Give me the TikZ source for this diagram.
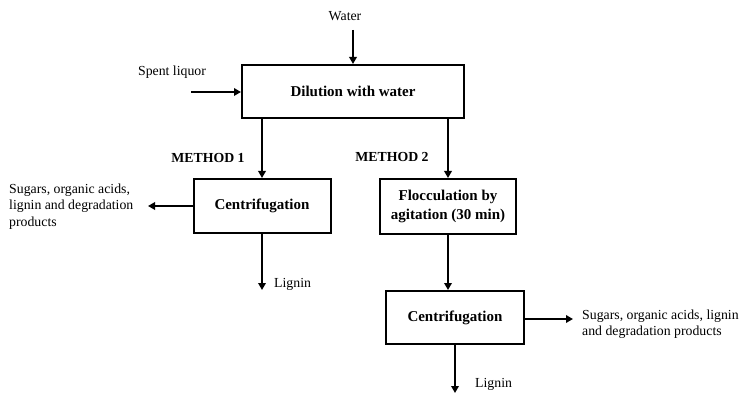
\documentclass[tikz,border=0pt]{standalone}
\usepackage{fontspec}
\setmainfont{Liberation Serif}
\usetikzlibrary{arrows.meta,positioning}

\begin{document}
\begin{tikzpicture}[x=1pt, y=-1pt,
  font=\fontsize{13.8}{16.5}\selectfont,
  box/.style={draw, line width=2pt, align=center, inner sep=0pt, font=\fontsize{15}{19.5}\selectfont\bfseries},
  lbl/.style={align=left, inner sep=0pt},
  meth/.style={inner sep=0pt, font=\fontsize{13.8}{16.5}\selectfont\bfseries},
  flow/.style={line width=2.8pt, -{Triangle[length=7pt,width=7.5pt]}}]
\useasboundingbox (0,0) rectangle (739,393);
% process boxes
\node[box, minimum width=222pt, minimum height=53pt] (dil) at (353,91.5) {Dilution with water};
\node[box, minimum width=137pt, minimum height=54pt] (cen1) at (262,206) {Centrifugation};
\node[box, minimum width=136pt, minimum height=55pt] (floc) at (448,206.5) {Flocculation by\\ agitation (30 min)};
\node[box, minimum width=138pt, minimum height=53pt] (cen2) at (455,317.5) {Centrifugation};
% labels
\node[lbl] (water) at (345,16) {Water};
\node[lbl] (spent) at (172,72) {Spent liquor};
\node[meth] (m1) at (208,158) {METHOD 1};
\node[meth] (m2) at (392,157) {METHOD 2};
\node[lbl, anchor=west] (out1) at (9,206.5) {Sugars, organic acids,\\ lignin and degradation\\ products};
\node[lbl, anchor=west] (lig1) at (274,284) {Lignin};
\node[lbl, anchor=west] (out2) at (582,324) {Sugars, organic acids, lignin\\ and degradation products};
\node[lbl, anchor=west] (lig2) at (475,384) {Lignin};
% free ends
\coordinate (win) at (353,30);
\coordinate (sin) at (191,92);
\coordinate (o1) at (148,206);
\coordinate (l1) at (262,290);
\coordinate (o2) at (573,319);
\coordinate (l2) at (455,393);
% flows
\draw[flow] (win) -- (dil.north);
\draw[flow] (sin) -- (sin -| dil.west);
\draw[flow] (dil.south -| cen1.north) -- (cen1.north);
\draw[flow] (dil.south -| floc.north) -- (floc.north);
\draw[flow] (floc.south) -- (floc.south |- cen2.north);
\draw[flow] (cen1.west) -- (o1);
\draw[flow] (cen1.south) -- (l1);
\draw[flow] (o2 -| cen2.east) -- (o2);
\draw[flow] (cen2.south) -- (l2);
\end{tikzpicture}
\end{document}
